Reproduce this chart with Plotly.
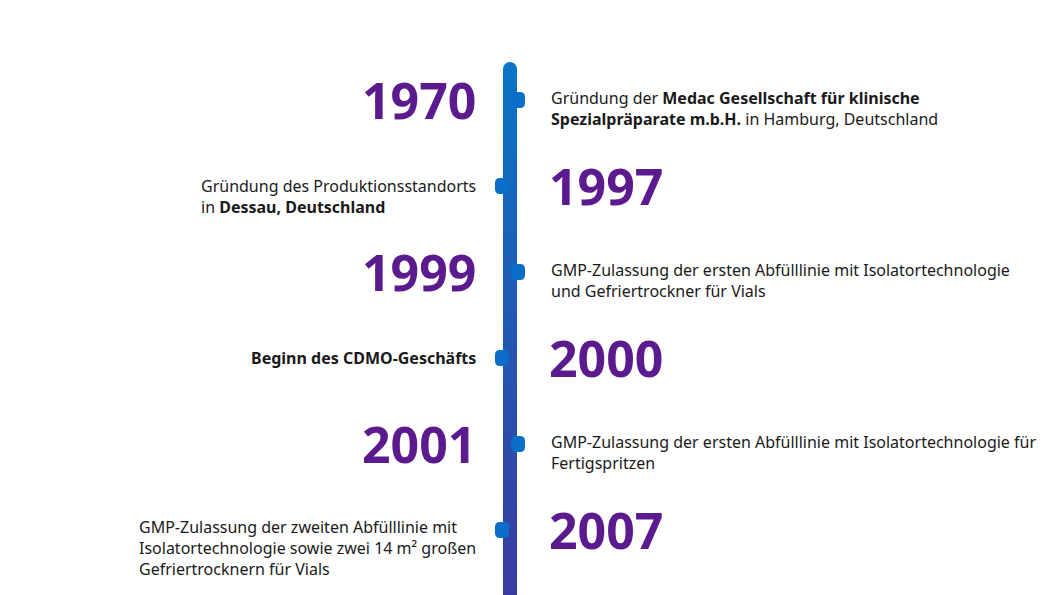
import plotly.graph_objects as go

years = ["1970", "1997", "1999", "2000", "2001", "2007"]
texts = [
    "Gründung der <b>Medac Gesellschaft für klinische</b><br><b>Spezialpräparate m.b.H.</b> in Hamburg, Deutschland",
    "Gründung des Produktionsstandorts<br>in <b>Dessau, Deutschland</b>",
    "GMP-Zulassung der ersten Abfülllinie mit Isolatortechnologie<br>und Gefriertrockner für Vials",
    "<b>Beginn des CDMO-Geschäfts</b>",
    "GMP-Zulassung der ersten Abfülllinie mit Isolatortechnologie für<br>Fertigspritzen",
    "GMP-Zulassung der zweiten Abfülllinie mit<br>Isolatortechnologie sowie zwei 14 m² großen<br>Gefriertrocknern für Vials",
]
year_side = ["left", "right", "left", "right", "left", "right"]

W, H = 1060, 595
OX, OY = -8, -8  # compensate page body margin
cx, bw = 510 + OX, 14
y0, step = 100 + OY, 86
fig = go.Figure()
shapes = []
top, bot = 62 + OY, 610
n = 60
c1, c2 = (10, 116, 198), (60, 58, 160)
for k in range(n):
    t = k / (n - 1)
    col = "rgb(%d,%d,%d)" % tuple(int(a + (b - a) * t) for a, b in zip(c1, c2))
    ya = top + (bot - top) * k / n
    yb = top + (bot - top) * (k + 1) / n + 1
    shapes.append(dict(type="rect", x0=cx - bw / 2, x1=cx + bw / 2, y0=ya + (6 if k == 0 else 0), y1=yb,
                       fillcolor=col, line_width=0, layer="below"))
shapes.append(dict(type="circle", x0=cx - bw / 2, x1=cx + bw / 2, y0=top, y1=top + 14,
                   fillcolor="rgb(10,116,198)", line_width=0, layer="below"))

def rrect(x0, x1, ya, yb, r):
    return ("M%f,%f L%f,%f Q%f,%f %f,%f L%f,%f Q%f,%f %f,%f L%f,%f Q%f,%f %f,%f L%f,%f Q%f,%f %f,%f Z" %
            (x0 + r, ya, x1 - r, ya, x1, ya, x1, ya + r, x1, yb - r, x1, yb, x1 - r, yb,
             x0 + r, yb, x0, yb, x0, yb - r, x0, ya + r, x0, ya, x0 + r, ya))

for i, (yr, tx, side) in enumerate(zip(years, texts, year_side)):
    y = y0 + step * i
    nub_x = cx + 8 if side == "left" else cx - 8
    shapes.append(dict(type="path", path=rrect(nub_x - 7, nub_x + 7, y - 8, y + 8, 5),
                       fillcolor="#0a6ec8", line_width=0, layer="above"))
    if side == "left":
        fig.add_annotation(x=478 + OX, y=y, text="<b>%s</b>" % yr, xanchor="right", yanchor="middle",
                           font=dict(size=50, color="#5b1a8e", family="Noto Sans"), showarrow=False)
        fig.add_annotation(x=549 + OX, y=y + 8, text=tx, xanchor="left", yanchor="middle", align="left",
                           font=dict(size=16, color="#1a1a1a", family="Noto Sans"), showarrow=False)
    else:
        fig.add_annotation(x=547 + OX, y=y, text="<b>%s</b>" % yr, xanchor="left", yanchor="middle",
                           font=dict(size=50, color="#5b1a8e", family="Noto Sans"), showarrow=False)
        nb = tx.count("<br>")
        fig.add_annotation(x=478 + OX, y=y + (10 if nb == 1 else (0 if nb == 0 else 18)),
                           text=tx, xanchor="right", yanchor="middle", align="left",
                           font=dict(size=16, color="#1a1a1a", family="Noto Sans"), showarrow=False)

fig.update_layout(width=W, height=H, margin=dict(l=0, r=0, t=0, b=0), shapes=shapes,
                  plot_bgcolor="white", paper_bgcolor="white", showlegend=False,
                  xaxis=dict(range=[0, W], visible=False, fixedrange=True),
                  yaxis=dict(range=[H, 0], visible=False, fixedrange=True))
fig.write_html("out.html")
